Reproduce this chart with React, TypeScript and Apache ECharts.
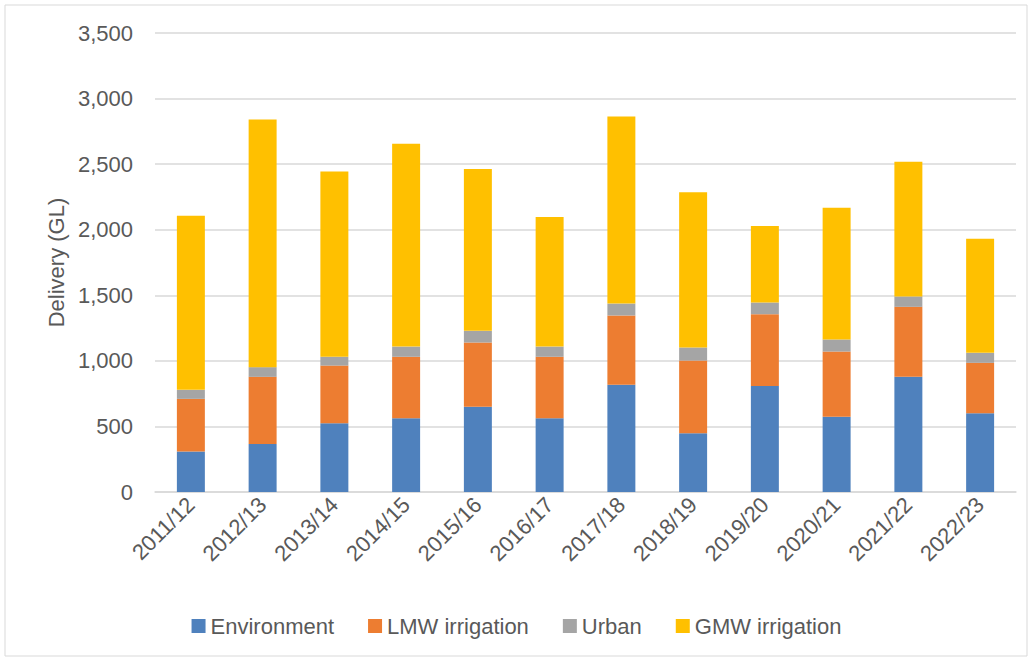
import React, { useEffect, useRef } from "react";
import * as echarts from "echarts";

const categories = ["2011/12", "2012/13", "2013/14", "2014/15", "2015/16", "2016/17", "2017/18", "2018/19", "2019/20", "2020/21", "2021/22", "2022/23"];
const environment = [308, 366, 524, 563, 651, 563, 817, 448, 809, 573, 878, 601];
const lmwIrrigation = [402, 512, 440, 468, 489, 468, 529, 554, 547, 498, 534, 384];
const urban = [69, 74, 67, 78, 89, 78, 91, 100, 89, 92, 79, 76];
const gmwIrrigation = [1328, 1888, 1412, 1547, 1234, 988, 1426, 1183, 583, 1005, 1028, 870];

const FONT = "'Liberation Sans', 'Open Sans', sans-serif";
const TXT = "#595959";

export default function App() {
  const ref = useRef<HTMLDivElement>(null);
  useEffect(() => {
    if (!ref.current) return;
    const chart = echarts.init(ref.current, null, { renderer: "svg" });
    const mk = (name: string, data: number[], color: string) => ({
      name,
      type: "bar",
      stack: "total",
      data,
      barWidth: "39%",
      itemStyle: { color },
    });
    chart.setOption({
      animation: false,
      backgroundColor: "#ffffff",
      graphic: [
        {
          type: "rect",
          shape: { x: 5, y: 5, width: 1022, height: 651 },
          style: { fill: "none", stroke: "#d9d9d9", lineWidth: 1 },
          silent: true,
        },
      ],
      grid: { left: 155, right: 17, top: 33, bottom: 170, containLabel: false },
      legend: {
        top: 610,
        left: "center",
        itemWidth: 14,
        itemHeight: 14,
        itemGap: 34,
        icon: "rect",
        textStyle: { fontSize: 22, color: TXT, fontFamily: FONT },
        data: ["Environment", "LMW irrigation", "Urban", "GMW irrigation"],
      },
      xAxis: {
        type: "category",
        data: categories,
        axisTick: { show: false },
        axisLine: { lineStyle: { color: "#d9d9d9", width: 1.5 } },
        axisLabel: {
          rotate: 45,
          fontSize: 22,
          color: TXT,
          fontFamily: FONT,
          margin: 9,
        },
      },
      yAxis: {
        type: "value",
        min: 0,
        max: 3500,
        interval: 500,
        name: "Delivery (GL)",
        nameLocation: "middle",
        nameGap: 88,
        nameTextStyle: { fontSize: 22, color: TXT, fontFamily: FONT },
        axisLine: { show: false },
        axisTick: { show: false },
        splitLine: { lineStyle: { color: "#d9d9d9", width: 1.5 } },
        axisLabel: {
          fontSize: 22,
          color: TXT,
          fontFamily: FONT,
          margin: 22,
          formatter: (v: number) => v.toLocaleString("en-US"),
        },
      },
      series: [
        mk("Environment", environment, "#4f81bd"),
        mk("LMW irrigation", lmwIrrigation, "#ed7d31"),
        mk("Urban", urban, "#a5a5a5"),
        mk("GMW irrigation", gmwIrrigation, "#ffc000"),
      ],
    });
    return () => chart.dispose();
  }, []);
  return (
    <div
      ref={ref}
      style={{ position: "fixed", left: 0, top: 0, width: 1033, height: 662 }}
    />
  );
}
